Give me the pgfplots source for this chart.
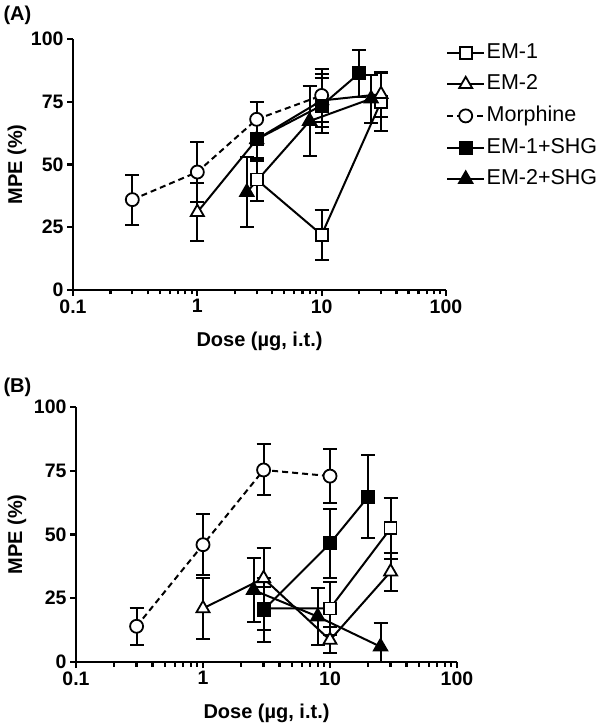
\documentclass[border=0pt]{standalone}
\usepackage{fontspec}
\setmainfont{Liberation Sans}
\usepackage{pgfplots}
\pgfplotsset{compat=1.18}
\tikzset{
  em1/.style={black, line width=2pt, mark=square*, mark options={solid, fill=white, line width=1.8pt}, mark size=6pt},
  em2/.style={black, line width=2pt, mark=triangle*, mark options={solid, fill=white, line width=1.8pt}, mark size=7.5pt},
  mor/.style={black, line width=2pt, dash pattern=on 6pt off 4pt, mark=*, mark options={solid, fill=white, line width=1.8pt}, mark size=6.5pt},
  em1s/.style={black, line width=2pt, mark=square*, mark options={solid, fill=black}, mark size=6pt},
  em2s/.style={black, line width=2pt, mark=triangle*, mark options={solid, fill=black}, mark size=7.5pt},
}
\begin{document}
\begin{tikzpicture}
\path[use as bounding box] (0,0) rectangle (600pt,728pt);
\node[anchor=west, font=\fontsize{20}{20}\selectfont\bfseries] at (0pt,713pt) {(A)};
\node[anchor=west, font=\fontsize{20}{20}\selectfont\bfseries] at (0pt,341pt) {(B)};
% Panel A
\begin{axis}[scale only axis, xmode=log, xmin=0.1, xmax=100, ymin=0, ymax=100,
    clip=false,
    axis x line*=bottom, axis y line*=left,
    axis line style={-, line width=2.6pt},
    xtick={0.1,1,10,100}, xticklabels={0.1,1,10,100},
    minor xtick={0.2,0.3,0.4,0.5,0.6,0.7,0.8,0.9,2,3,4,5,6,7,8,9,20,30,40,50,60,70,80,90},
    ytick={0,25,50,75,100}, yticklabels={0,25,50,75,100},
    tick align=outside, major tick length=6pt, minor tick length=4.5pt,
    tick style={black, line width=2.2pt},
    ticklabel style={font=\fontsize{19.5}{19.5}\selectfont\bfseries},
    label style={font=\fontsize{20}{20}\selectfont\bfseries},
    error bars/error bar style={line width=2pt, black, solid},
    error bars/error mark options={rotate=90, mark size=7pt, line width=2pt, black, solid},
  at={(73pt,438pt)}, anchor=south west, width=373pt, height=251pt,
  xlabel={Dose (µg, i.t.)}, ylabel={MPE (\%)},
  x label style={at={(axis description cs:0.5,0)}, anchor=center, yshift=-51pt},
  y label style={at={(axis description cs:0,0.5)}, anchor=center, rotate=0, yshift=56pt},
  legend image code/.code={\draw[mark repeat=2,mark phase=2,#1] plot coordinates {(0pt,0pt) (18.5pt,0pt) (37pt,0pt)};},
  legend style={at={(rel axis cs:1.0,0.99)}, anchor=north west, draw=none, fill=none,
    font=\fontsize{21.5}{21.5}\selectfont, row sep=9.6pt, inner sep=0pt,
    nodes={inner sep=1.5pt, text height=15pt, text depth=4pt}},
  legend cell align=left]
\addplot[em1, error bars/y dir=both, error bars/y explicit] coordinates {(3,44) +- (0,8.5) (10,22) +- (0,10) (30,75) +- (0,11.5)};
\addlegendentry{EM-1}
\addplot[em2, error bars/y dir=both, error bars/y explicit] coordinates {(1,31) +- (0,11.5) (3,60) +- (0,8.5) (10,75.5) +- (0,10.5) (30,78) +- (0,9)};
\addlegendentry{EM-2}
\addplot[mor, error bars/y dir=both, error bars/y explicit] coordinates {(0.3,36) +- (0,10) (1,47) +- (0,12) (3,68) +- (0,7) (10,77.5) +- (0,10.5)};
\addlegendentry{Morphine}
\addplot[em1s, error bars/y dir=both, error bars/y explicit] coordinates {(3,60) +- (0,8) (10,73.5) +- (0,11) (20,86.3) +- (0,9.3)};
\addlegendentry{EM-1+SHG}
\addplot[em2s, error bars/y dir=both, error bars/y explicit] coordinates {(2.5,39) +- (0,14) (8,67.3) +- (0,13.8) (25,76.2) +- (0,9.5)};
\addlegendentry{EM-2+SHG}
\end{axis}
% Panel B
\begin{axis}[scale only axis, xmode=log, xmin=0.1, xmax=100, ymin=0, ymax=100,
    clip=false,
    axis x line*=bottom, axis y line*=left,
    axis line style={-, line width=2.6pt},
    xtick={0.1,1,10,100}, xticklabels={0.1,1,10,100},
    minor xtick={0.2,0.3,0.4,0.5,0.6,0.7,0.8,0.9,2,3,4,5,6,7,8,9,20,30,40,50,60,70,80,90},
    ytick={0,25,50,75,100}, yticklabels={0,25,50,75,100},
    tick align=outside, major tick length=6pt, minor tick length=4.5pt,
    tick style={black, line width=2.2pt},
    ticklabel style={font=\fontsize{19.5}{19.5}\selectfont\bfseries},
    label style={font=\fontsize{20}{20}\selectfont\bfseries},
    error bars/error bar style={line width=2pt, black, solid},
    error bars/error mark options={rotate=90, mark size=7pt, line width=2pt, black, solid},
  at={(76pt,66pt)}, anchor=south west, width=381pt, height=255pt,
  xlabel={Dose (µg, i.t.)}, ylabel={MPE (\%)},
  x label style={at={(axis description cs:0.5,0)}, anchor=center, yshift=-51pt},
  y label style={at={(axis description cs:0,0.5)}, anchor=center, rotate=0, yshift=59pt}]
\addplot[em1, error bars/y dir=both, error bars/y explicit] coordinates {(3,21) +- (0,8.5) (10,21) +- (0,10.5) (30,52.4) +- (0,12)};
\addplot[em2, error bars/y dir=both, error bars/y explicit] coordinates {(1,21) +- (0,12) (3,32.8) +- (0,12) (10,8.6) +- (0,5.2) (30,35.4) +- (0,7.5)};
\addplot[mor, error bars/y dir=both, error bars/y explicit] coordinates {(0.3,14) +- (0,7.3) (1,46) +- (0,12) (3,75.3) +- (0,10) (10,72.9) +- (0,10.5)};
\addplot[em1s, error bars/y dir=both, error bars/y explicit] coordinates {(3,20.4) +- (0,12.4) (10,46.5) +- (0,13.5) (20,64.8) +- (0,16.2)};
\addplot[em2s, error bars/y dir=both, error bars/y explicit] coordinates {(2.5,28.2) +- (0,12.6) (8,17.8) +- (0,11.2) (25,6) += (0,9.4) -= (0,6)};
\end{axis}
\end{tikzpicture}
\end{document}
